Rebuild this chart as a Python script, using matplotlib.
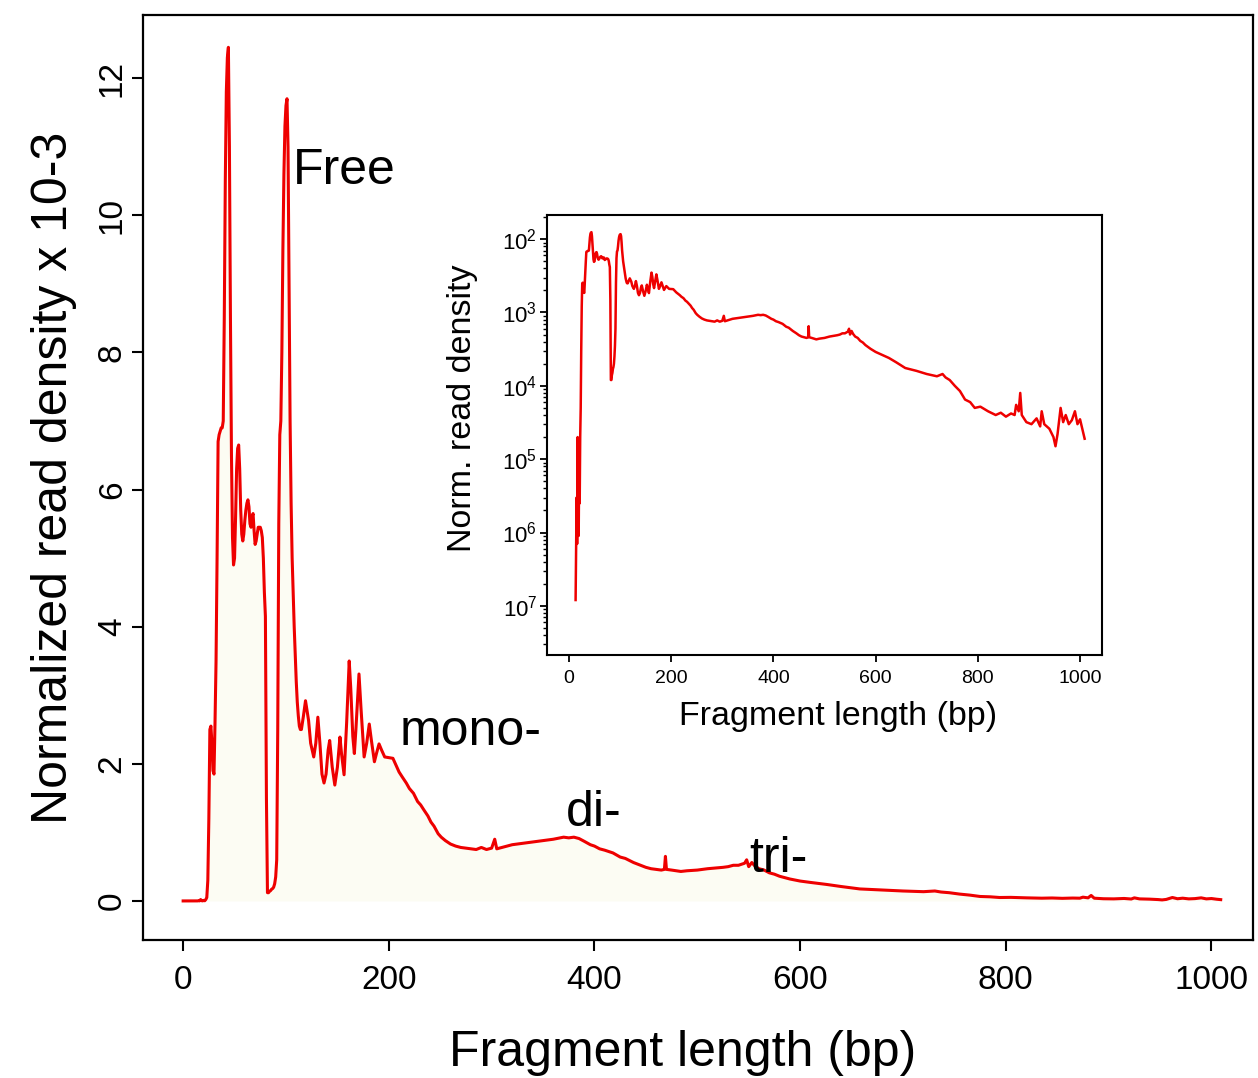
import matplotlib
matplotlib.use('Agg')
import matplotlib.pyplot as plt
import numpy as np
from matplotlib.ticker import FixedLocator, LogLocator, NullFormatter

plt.rcParams['font.family'] = ['Liberation Sans', 'DejaVu Sans']
plt.rcParams['mathtext.fontset'] = 'custom'
plt.rcParams['mathtext.rm'] = 'Liberation Sans'

# fragment length (bp) and normalized read density (x 10^-3)
frag_len = [0, 5, 10, 12,
            13, 14, 15, 16, 17, 18, 19, 20, 21, 22, 23, 24, 25, 26, 27, 28, 29, 30,
            31, 32, 33, 34, 35, 36, 37, 38, 39, 40, 41, 42, 43, 44, 45, 46, 47, 48,
            49, 50, 51, 52, 53, 54, 55, 56, 57, 58, 59, 60, 61, 62, 63, 64, 65, 66,
            67, 68, 69, 70, 71, 72, 73, 74, 75, 76, 77, 78, 79, 80, 81, 82, 83, 84,
            85, 86, 87, 88, 89, 90, 91, 92, 93, 94, 95, 96, 97, 98, 99, 100, 101, 102,
            103, 104, 105, 106, 107, 108, 109, 110, 111, 112, 113, 114, 115, 117, 119,
            122, 124, 127, 129, 131, 133, 135, 137, 139, 141, 142.5, 145, 147.5, 150,
            152.5, 154, 156.5, 159, 161.5, 163, 165, 166.5, 168, 171, 173, 176, 178.5,
            181, 183, 186, 188, 190.5, 193, 196, 200, 204, 207, 210, 213, 217, 220,
            224, 228, 231, 234, 238, 241, 244, 248, 251, 255, 260, 265, 270, 275, 280,
            285, 290, 295, 300, 303, 305, 310, 315, 320, 330, 340, 350, 360, 370, 375,
            380, 385, 390, 396, 400, 405, 410, 418, 425, 430, 438, 445, 450, 455, 460,
            465, 468, 469, 470, 475, 484, 490, 500, 510, 518, 525, 530, 535, 540, 546,
            548, 550, 553, 556, 560, 565, 570, 575, 580, 590, 600, 610, 626, 640, 658,
            680, 700, 720, 731, 737, 745, 755, 765, 775, 785, 794, 805, 820, 835, 845,
            855, 865, 872, 875, 880, 883, 886, 895, 905, 915, 922, 925, 930, 940, 948,
            952, 956, 962, 967, 972, 978, 984, 990, 995, 1000, 1005, 1009]
density = [0, 0, 0, 0,
           0.00012, 0.0006, 0.003, 0.0007, 0.02, 0.003, 0.0009, 0.008, 0.0025, 0.02,
           0.05, 0.3, 1.2, 2.5, 2.55, 2.3, 1.9, 1.85,
           2.6, 3.5, 5.0, 6.7, 6.8, 6.85, 6.9, 6.9, 7.0, 8.5, 10.5, 11.8, 12.3, 12.45,
           11.0, 8.5, 6.5, 5.3,
           4.9, 5.0, 5.6, 6.3, 6.6, 6.65, 6.3, 5.7, 5.35, 5.25, 5.35, 5.55, 5.7, 5.8,
           5.85, 5.75, 5.5, 5.45,
           5.6, 5.65, 5.4, 5.2, 5.25, 5.35, 5.45, 5.45, 5.45, 5.4, 5.3, 5.0, 4.5, 4.15,
           1.5, 0.12, 0.12, 0.14,
           0.15, 0.17, 0.18, 0.2, 0.25, 0.35, 0.6, 2.5, 5.5, 6.8, 7.0, 8.0, 9.5, 10.6,
           11.3, 11.6, 11.7, 11.0,
           9.0, 7.0, 5.8, 5.0, 4.5, 4.0, 3.6, 3.2, 2.9, 2.7, 2.55, 2.5, 2.5, 2.7, 2.92,
           2.63, 2.3, 2.1, 2.3, 2.68, 2.3, 1.85, 1.72, 1.85, 2.2, 2.34, 1.95, 1.69, 1.95,
           2.39, 2.15, 1.84, 2.6, 3.5, 3.1, 2.4, 2.15, 2.5, 3.31, 2.8, 2.1, 2.3,
           2.58, 2.35, 2.03, 2.15, 2.29, 2.2, 2.1, 2.09, 2.08, 1.98, 1.88, 1.81, 1.72, 1.64,
           1.57, 1.45, 1.4, 1.33, 1.24, 1.15, 1.09, 0.98, 0.93, 0.88, 0.83, 0.8, 0.78, 0.77, 0.76,
           0.75, 0.78, 0.75, 0.77, 0.9, 0.76, 0.78, 0.8, 0.82, 0.84, 0.86, 0.88, 0.9, 0.93, 0.92,
           0.93, 0.91, 0.87, 0.82, 0.8, 0.76, 0.74, 0.7, 0.64, 0.62, 0.56, 0.52, 0.49, 0.47, 0.46,
           0.45, 0.46, 0.65, 0.46, 0.45, 0.43, 0.44, 0.45, 0.47, 0.48, 0.49, 0.5, 0.52, 0.52, 0.55,
           0.6, 0.5, 0.56, 0.51, 0.47, 0.45, 0.41, 0.39, 0.36, 0.32, 0.29, 0.27, 0.24, 0.21, 0.175,
           0.16, 0.145, 0.135, 0.145, 0.13, 0.12, 0.1, 0.085, 0.065, 0.06, 0.05, 0.052, 0.045, 0.04, 0.043,
           0.038, 0.042, 0.04, 0.055, 0.045, 0.08, 0.04, 0.032, 0.03, 0.036, 0.028, 0.045, 0.03, 0.026, 0.02,
           0.015, 0.022, 0.05, 0.032, 0.04, 0.03, 0.034, 0.045, 0.03, 0.035, 0.025, 0.019]

peak_labels = ['Free', 'mono-', 'di-', 'tri-']
peak_x = [107, 211, 372, 551]
peak_y = [10.45, 2.27, 1.09, 0.42]

x = np.array(frag_len, dtype=float)
y = np.array(density, dtype=float)
red = '#ee0000'

fig = plt.figure(figsize=(12.58, 10.78), dpi=100)
ax = fig.add_axes([0.1137, 0.128, 0.882, 0.858])

ax.fill_between(x, 0, y, color='#fcfcf3', lw=0)
ax.plot(x, y, color=red, lw=2.2)

ax.set_xlim(-39, 1040)
ax.set_ylim(-0.57, 12.92)
ax.xaxis.set_major_locator(FixedLocator([0, 200, 400, 600, 800, 1000]))
ax.yaxis.set_major_locator(FixedLocator([0, 2, 4, 6, 8, 10, 12]))
ax.tick_params(axis='both', direction='out', length=8, width=1.5, labelsize=24)
ax.tick_params(axis='x', pad=10)
ax.tick_params(axis='y', pad=3)
for lab in ax.get_yticklabels():
    lab.set_rotation(90)
    lab.set_va('center')
for sp in ax.spines.values():
    sp.set_linewidth(1.6)

ax.set_xlabel('Fragment length (bp)', fontsize=36)
ax.xaxis.set_label_coords(0.486, -0.097)
ax.set_ylabel('Normalized read density x 10-3', fontsize=36, labelpad=14)

for txt, px, py in zip(peak_labels, peak_x, peak_y):
    ax.text(px, py, txt, fontsize=36, ha='left', va='baseline')

# inset: same data on a log scale
ins = fig.add_axes([0.4348, 0.3924, 0.4412, 0.4082])
pos = y > 0
ins.plot(x[pos], y[pos] * 1e-3, color=red, lw=1.8)
ins.set_yscale('log')
ins.set_xlim(-43, 1043)
ins.set_ylim(10 ** -7.67, 10 ** -1.67)
ins.xaxis.set_major_locator(FixedLocator([0, 200, 400, 600, 800, 1000]))
ins.yaxis.set_major_locator(FixedLocator([1e-2, 1e-3, 1e-4, 1e-5, 1e-6, 1e-7]))
ins.set_yticklabels([r'$\mathregular{10^{%d}}$' % k for k in [2, 3, 4, 5, 6, 7]])
ins.yaxis.set_minor_locator(LogLocator(base=10, subs=np.arange(2, 10), numticks=20))
ins.yaxis.set_minor_formatter(NullFormatter())
ins.tick_params(axis='both', which='major', direction='out', length=5, width=1.3, labelsize=14)
ins.tick_params(axis='y', which='major', labelsize=16)
ins.tick_params(axis='y', which='minor', direction='out', length=3, width=1.0)
ins.tick_params(axis='x', pad=6)
ins.tick_params(axis='y', pad=2)
for sp in ins.spines.values():
    sp.set_linewidth(1.5)
ins.set_xlabel('Fragment length (bp)', fontsize=24.5)
ins.xaxis.set_label_coords(0.524, -0.105)
ins.set_ylabel('Norm. read density', fontsize=24.5)
ins.yaxis.set_label_coords(-0.124, 0.56)

fig.savefig('out.png', dpi=100)
plt.close(fig)
